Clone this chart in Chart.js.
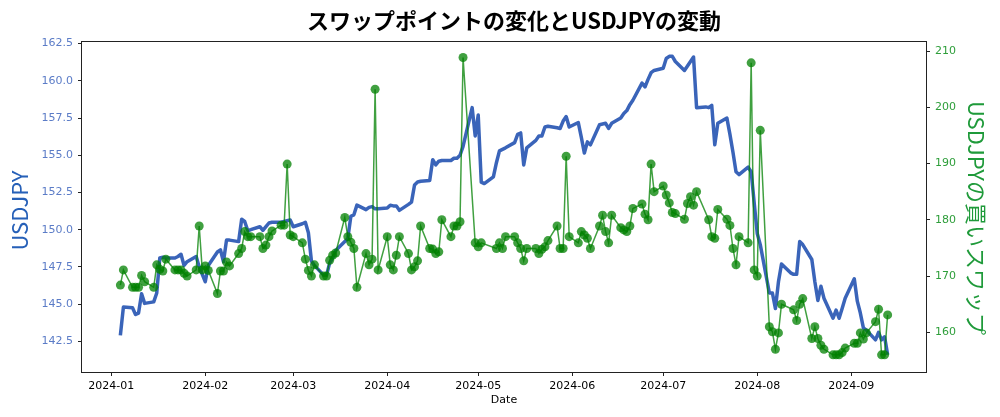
<!DOCTYPE html>
<html><head><meta charset="utf-8">
<script src="https://cdn.jsdelivr.net/npm/chart.js@4.4.1/dist/chart.umd.min.js"></script>
<style>html,body{margin:0;padding:0;background:#fff;}#wrap{width:1000px;height:417px;position:relative;}</style>
</head><body><div id="wrap"><canvas id="c"></canvas></div>
<script>
const titleText = 'スワップポイントの変化とUSDJPYの変動';
const leftTitle = 'USDJPY';
const rightTitle = 'USDJPYの買いスワップ';
const xTitle = 'Date';

const dates = [
'2024-01-04','2024-01-05','2024-01-08','2024-01-09','2024-01-10','2024-01-11','2024-01-12','2024-01-15','2024-01-16','2024-01-17','2024-01-18','2024-01-19','2024-01-22','2024-01-23','2024-01-24','2024-01-25','2024-01-26','2024-01-29','2024-01-30','2024-01-31',
'2024-02-01','2024-02-02','2024-02-05','2024-02-06','2024-02-07','2024-02-08','2024-02-09','2024-02-12','2024-02-13','2024-02-14','2024-02-15','2024-02-16','2024-02-19','2024-02-20','2024-02-21','2024-02-22','2024-02-23','2024-02-26','2024-02-27','2024-02-28','2024-02-29',
'2024-03-01','2024-03-04','2024-03-05','2024-03-06','2024-03-07','2024-03-08','2024-03-11','2024-03-12','2024-03-13','2024-03-14','2024-03-15','2024-03-18','2024-03-19','2024-03-20','2024-03-21','2024-03-22','2024-03-25','2024-03-26','2024-03-27','2024-03-28','2024-03-29',
'2024-04-01','2024-04-02','2024-04-03','2024-04-04','2024-04-05','2024-04-08','2024-04-09','2024-04-10','2024-04-11','2024-04-12','2024-04-15','2024-04-16','2024-04-17','2024-04-18','2024-04-19','2024-04-22','2024-04-23','2024-04-24','2024-04-25','2024-04-26','2024-04-29','2024-04-30',
'2024-05-01','2024-05-02','2024-05-03','2024-05-06','2024-05-07','2024-05-08','2024-05-09','2024-05-10','2024-05-13','2024-05-14','2024-05-15','2024-05-16','2024-05-17','2024-05-20','2024-05-21','2024-05-22','2024-05-23','2024-05-24','2024-05-27','2024-05-28','2024-05-29','2024-05-30','2024-05-31',
'2024-06-03','2024-06-04','2024-06-05','2024-06-06','2024-06-07','2024-06-10','2024-06-11','2024-06-12','2024-06-13','2024-06-14','2024-06-17','2024-06-18','2024-06-19','2024-06-20','2024-06-21','2024-06-24','2024-06-25','2024-06-26','2024-06-27','2024-06-28',
'2024-07-01','2024-07-02','2024-07-03','2024-07-04','2024-07-05','2024-07-08','2024-07-09','2024-07-10','2024-07-11','2024-07-12','2024-07-15','2024-07-16','2024-07-17','2024-07-18','2024-07-19','2024-07-22','2024-07-23','2024-07-24','2024-07-25','2024-07-26','2024-07-29','2024-07-30','2024-07-31',
'2024-08-01','2024-08-02','2024-08-05','2024-08-06','2024-08-07','2024-08-08','2024-08-09','2024-08-12','2024-08-13','2024-08-14','2024-08-15','2024-08-16','2024-08-19','2024-08-20','2024-08-21','2024-08-22','2024-08-23','2024-08-26','2024-08-27','2024-08-28','2024-08-29','2024-08-30',
'2024-09-02','2024-09-03','2024-09-04','2024-09-05','2024-09-06','2024-09-09','2024-09-10','2024-09-11','2024-09-12','2024-09-13'
];

const usdjpy = [
142.9,144.8,144.75,144.3,144.4,145.7,145.05,145.15,145.75,148.1,148.15,148.1,148.1,148.2,148.35,147.6,147.85,148.2,147.5,147.0,
146.5,147.6,148.5,148.65,147.85,149.3,149.3,149.2,150.7,150.55,149.95,150.0,150.2,149.95,150.2,150.45,150.5,150.5,150.55,150.6,150.65,
150.2,150.4,150.5,149.8,147.9,147.6,146.95,146.95,147.75,148.1,148.6,149.2,149.4,150.9,151.0,151.65,151.35,151.5,151.55,151.4,151.4,
151.45,151.65,151.6,151.6,151.3,151.7,151.85,153.0,153.2,153.25,153.3,154.7,154.35,154.6,154.65,154.65,154.8,154.8,155.0,155.6,158.2,156.3,
157.7,153.2,153.1,153.55,154.5,155.3,155.4,155.5,155.85,156.4,156.5,154.35,155.5,156.0,156.3,156.3,156.9,156.95,156.85,156.8,157.3,157.6,156.9,
157.2,156.2,155.15,155.9,155.7,157.05,157.1,157.15,156.8,157.15,157.5,157.8,158.0,158.4,158.7,159.85,159.6,160.1,160.55,160.7,
160.85,161.5,161.65,161.65,161.3,160.7,161.0,161.3,161.6,158.2,158.25,158.2,158.35,155.7,157.15,157.5,156.4,155.2,153.9,153.7,154.2,153.9,151.8,
149.75,149.0,145.75,145.75,144.7,146.5,147.7,147.1,147.0,147.0,149.2,149.0,148.0,146.5,145.25,146.2,145.4,144.05,144.6,144.05,144.7,145.4,
146.7,145.2,144.4,143.4,143.25,142.6,143.1,142.6,142.8,141.6
];

const swap = [
168.4,171.1,168.0,168.0,168.0,170.1,169.0,168.0,172.0,171.2,170.9,173.0,171.1,171.1,171.1,170.5,170.0,171.1,178.9,171.1,
171.8,171.0,166.9,170.9,170.9,172.5,171.8,174.0,174.9,177.9,177.0,177.0,177.0,174.9,175.5,177.0,178.0,179.05,179.05,189.9,177.3,
177.0,175.9,173.0,171.0,170.0,172.0,170.0,170.0,172.8,173.7,174.1,180.4,177.0,176.0,174.9,168.0,174.0,172.0,173.0,203.2,171.1,
177.0,172.0,171.1,173.7,177.0,174.0,171.1,171.65,172.7,178.9,174.9,174.8,174.0,174.3,180.0,177.0,178.9,178.9,179.65,208.85,null,175.9,
175.2,175.9,null,null,174.9,175.9,174.9,177.0,177.0,175.9,174.9,172.7,174.9,174.9,174.0,174.75,175.2,176.3,178.9,174.9,174.9,191.3,177.0,
175.9,177.9,177.3,176.7,174.9,178.9,180.8,177.9,175.9,180.8,178.6,178.2,177.9,178.9,182.0,182.8,181.0,180.0,189.9,185.0,
186.0,184.4,183.0,181.3,181.1,180.1,182.9,184.1,182.6,185.0,null,180.0,177.0,176.7,181.85,180.1,179.0,174.9,172.0,177.0,175.9,207.9,171.1,
170.0,195.9,161.0,160.1,157.0,159.9,165.0,null,164.0,162.1,165.0,166.0,158.9,161.0,158.9,157.7,157.0,156.0,156.0,156.0,156.4,157.2,
158.05,158.05,159.9,158.8,159.9,161.9,164.1,156.0,156.0,163.1
];

const monthTicks = ['2024-01-01','2024-02-01','2024-03-01','2024-04-01','2024-05-01','2024-06-01','2024-07-01','2024-08-01','2024-09-01'];
const leftTicks = [142.5,145.0,147.5,150.0,152.5,155.0,157.5,160.0,162.5];
const rightTicks = [160,170,180,190,200,210];

const base = Date.UTC(2024,0,1);
const dayNum = s => { const [y,m,d] = s.split('-').map(Number); return (Date.UTC(y,m-1,d)-base)/86400000; };
const xs = dates.map(dayNum);
const first = xs[0], last = xs[xs.length-1], margin = (last-first)*0.05;

const blueData = xs.map((x,i)=>({x, y: usdjpy[i]}));
const greenData = xs.map((x,i)=>({x, y: swap[i]}));

const tickFont = {family:'"DejaVu Sans"', size:11};
const deco = {
  id:'deco',
  afterDraw(chart){
    const {ctx, chartArea:a} = chart;
    ctx.save();
    ctx.strokeStyle = '#222'; ctx.lineWidth = 1;
    ctx.strokeRect(Math.round(a.left)-0.5, Math.round(a.top)-0.5, Math.round(a.right-a.left)+1, Math.round(a.bottom-a.top)+1);
    ctx.fillStyle = '#000';
    ctx.font = 'bold 22px "Noto Sans CJK JP"';
    ctx.textAlign = 'center'; ctx.textBaseline = 'middle';
    ctx.fillText(titleText, 514, 21);
    ctx.font = '11px "DejaVu Sans"';
    ctx.fillText(xTitle, (a.left+a.right)/2, 400);
    ctx.save();
    ctx.translate(20, 210.5); ctx.rotate(-Math.PI/2);
    ctx.fillStyle = '#2660b8';
    ctx.font = '22px "Noto Sans CJK JP"';
    ctx.fillText(leftTitle, 0, 0);
    ctx.restore();
    ctx.save();
    ctx.translate(976, 218); ctx.rotate(Math.PI/2);
    ctx.fillStyle = '#1f9a3a';
    ctx.font = '22px "Noto Sans CJK JP"';
    ctx.fillText(rightTitle, 0, 0);
    ctx.restore();
    ctx.restore();
  }
};

new Chart(document.getElementById('c'), {
  type:'line',
  data:{datasets:[
    {label:rightTitle, data:greenData, yAxisID:'y2', borderColor:'rgba(0,128,0,0.75)', backgroundColor:'rgba(0,128,0,0.75)', borderWidth:1.5, pointRadius:4.5, pointBorderWidth:0, pointHoverRadius:4.5, spanGaps:true, tension:0, order:0},
    {label:leftTitle, data:blueData, yAxisID:'y', borderColor:'#3a64b9', borderWidth:3.5, pointRadius:0, spanGaps:true, tension:0, borderJoinStyle:'round', order:1}
  ]},
  options:{
    responsive:true, maintainAspectRatio:false, animation:false,
    layout:{padding:{top:42,left:0,right:0,bottom:0}},
    plugins:{legend:{display:false}, title:{display:false}, tooltip:{enabled:false}},
    scales:{
      x:{type:'linear', min:first-margin, max:last+margin,
        afterBuildTicks:s=>{s.ticks = monthTicks.map(m=>({value:dayNum(m)}));},
        afterFit:s=>{s.height = 45;},
        ticks:{callback:(v)=>{const i = monthTicks.findIndex(m=>dayNum(m)===v); return i>=0 ? monthTicks[i].slice(0,7) : '';}, font:tickFont, color:'#000', maxRotation:0, autoSkip:false, padding:4},
        grid:{display:true, drawOnChartArea:false, drawTicks:true, tickLength:4, color:'#222'},
        border:{display:false}},
      y:{position:'left', min:140.44, max:162.61,
        afterBuildTicks:s=>{s.ticks = leftTicks.map(v=>({value:v}));},
        afterFit:s=>{s.width = 82;},
        ticks:{callback:v=>v.toFixed(1), font:tickFont, color:'#5b7cc7', padding:5},
        grid:{display:true, drawOnChartArea:false, drawTicks:true, tickLength:4, color:'#222'},
        border:{display:false}},
      y2:{position:'right', min:152.95, max:211.6,
        afterBuildTicks:s=>{s.ticks = rightTicks.map(v=>({value:v}));},
        afterFit:s=>{s.width = 74;},
        ticks:{callback:v=>String(v), font:tickFont, color:'#2e9e3a', padding:5},
        grid:{display:true, drawOnChartArea:false, drawTicks:true, tickLength:4, color:'#222'},
        border:{display:false}}
    }
  },
  plugins:[deco]
});
</script>
</body></html>
